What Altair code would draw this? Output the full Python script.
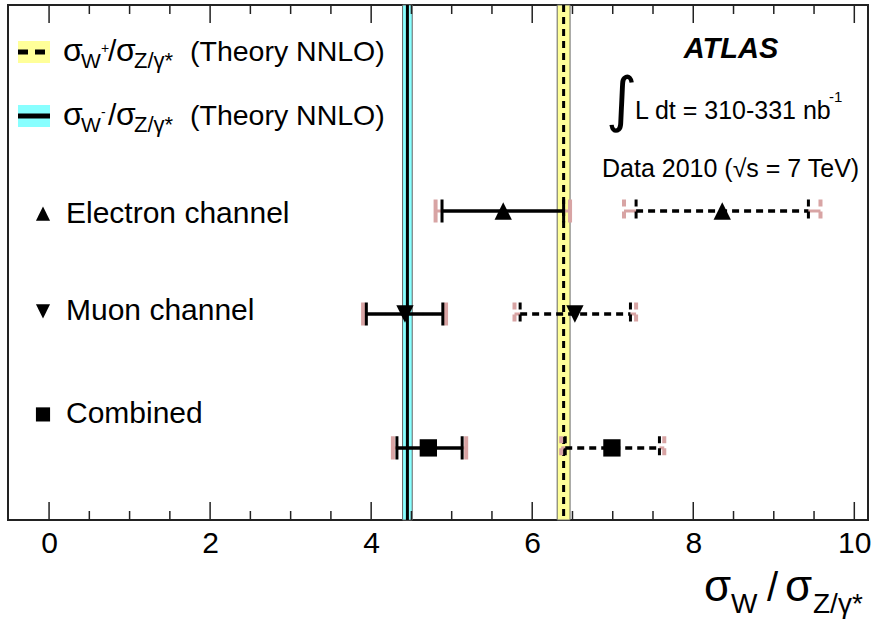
import altair as alt
import pandas as pd

# ---------------- data ----------------
channels = ["Electron channel", "Muon channel", "Combined"]
row_pos = [6.0, 4.0, 1.4]          # vertical slot of each measurement
label_pos = [5.95, 4.05, 2.05]     # vertical slot of each channel label

# sigma_W- / sigma_Z (solid)
wm_val = [5.64, 4.42, 4.71]
wm_stat_lo = [4.88, 3.94, 4.32]
wm_stat_hi = [6.39, 4.89, 5.13]
wm_tot_lo = [4.80, 3.90, 4.27]
wm_tot_hi = [6.47, 4.93, 5.18]

# sigma_W+ / sigma_Z (dashed)
wp_val = [8.36, 6.53, 6.99]
wp_stat_lo = [7.29, 5.85, 6.41]
wp_stat_hi = [9.43, 7.22, 7.58]
wp_tot_lo = [7.14, 5.78, 6.36]
wp_tot_hi = [9.58, 7.29, 7.64]

# theory NNLO predictions
theory = ["W-", "W+"]
theory_val = [4.45, 6.39]
theory_lo = [4.39, 6.31]
theory_hi = [4.51, 6.47]

major_ticks = [0, 2, 4, 6, 8, 10]
minor_ticks = [0.5, 1, 1.5, 2.5, 3, 3.5, 4.5, 5, 5.5, 6.5, 7, 7.5, 8.5, 9, 9.5]

# ---------------- layout ----------------
W, H = 860, 515
PL, PT = 8, 5
FONT = "Liberation Sans"
PINK = "#d8a4a4"
YELLOW = "#ffff99"
CYAN = "#88ffff"


def px(x):
    return x - PL


def py(y):
    return y - PT


marker_paths = {
    "Electron channel": "M-1,1L0,-1L1,1Z",
    "Muon channel": "M-1,-1L0,1L1,-1Z",
    "Combined": "square",
}

rows = []
for i, ch in enumerate(channels):
    rows.append(dict(channel=ch, boson="W-", row=row_pos[i], val=wm_val[i],
                     slo=wm_stat_lo[i], shi=wm_stat_hi[i],
                     tlo=wm_tot_lo[i], thi=wm_tot_hi[i], marker=marker_paths[ch]))
    rows.append(dict(channel=ch, boson="W+", row=row_pos[i], val=wp_val[i],
                     slo=wp_stat_lo[i], shi=wp_stat_hi[i],
                     tlo=wp_tot_lo[i], thi=wp_tot_hi[i], marker=marker_paths[ch]))
meas = pd.DataFrame(rows)

th = pd.DataFrame({"boson": theory, "val": theory_val, "lo": theory_lo, "hi": theory_hi})
labels = pd.DataFrame({"channel": channels, "label": label_pos,
                       "marker": [marker_paths[c] for c in channels]})
ticks = pd.DataFrame({"t": major_ticks + minor_ticks,
                      "kind": ["major"] * len(major_ticks) + ["minor"] * len(minor_ticks)})
one = pd.DataFrame({"a": [0]})

xs = alt.Scale(domain=[-0.51, 10.17], nice=False, zero=False)
ys = alt.Scale(domain=[0, 10], nice=False, zero=False)
xax = alt.Axis(values=major_ticks, ticks=False, domain=False, grid=False, title=None,
               labelFont=FONT, labelFontSize=30, labelColor="black", labelPadding=8,
               labelFlush=False, format="d")

dash_scale = alt.Scale(domain=["W-", "W+"], range=[[1, 0], [8, 6]])

layers = []

# theory bands
layers.append(
    alt.Chart(th).mark_rect(stroke="#666", strokeWidth=1).encode(
        x=alt.X("lo:Q", scale=xs, axis=xax), x2="hi:Q",
        y=alt.value(0), y2=alt.value(H),
        color=alt.Color("boson:N", scale=alt.Scale(domain=["W-", "W+"], range=[CYAN, YELLOW]), legend=None),
    )
)
# theory central values
layers.append(
    alt.Chart(th).mark_rule(color="black", strokeWidth=3).encode(
        x=alt.X("val:Q", scale=xs, axis=xax), y=alt.value(0), y2=alt.value(H),
        strokeDash=alt.StrokeDash("boson:N", scale=alt.Scale(domain=["W-", "W+"], range=[[1, 0], [7, 5]]), legend=None),
    )
)

# pink outer segments of total error
for a, b in (("tlo", "slo"), ("shi", "thi")):
    layers.append(
        alt.Chart(meas).mark_rule(color=PINK, strokeWidth=3).encode(
            x=alt.X(f"{a}:Q", scale=xs, axis=xax), x2=f"{b}:Q",
            y=alt.Y("row:Q", scale=ys, axis=None),
        )
    )
# black statistical line
layers.append(
    alt.Chart(meas).mark_rule(color="black", strokeWidth=3.5).encode(
        x=alt.X("slo:Q", scale=xs, axis=xax), x2="shi:Q",
        y=alt.Y("row:Q", scale=ys, axis=None),
        strokeDash=alt.StrokeDash("boson:N", scale=dash_scale, legend=None),
    )
)
# pink caps (total)
layers.append(
    alt.Chart(meas).transform_fold(["tlo", "thi"], as_=["side", "capx"]).transform_calculate(
        ya="datum.row + 0.225", yb="datum.row - 0.225"
    ).mark_rule(color=PINK, strokeWidth=4).encode(
        x=alt.X("capx:Q", scale=xs, axis=xax),
        y=alt.Y("ya:Q", scale=ys, axis=None), y2="yb:Q",
        strokeDash=alt.StrokeDash("boson:N", scale=dash_scale, legend=None),
    )
)
# black caps (stat)
layers.append(
    alt.Chart(meas).transform_fold(["slo", "shi"], as_=["side", "capx"]).transform_calculate(
        ya="datum.row + 0.225", yb="datum.row - 0.225"
    ).mark_rule(color="black", strokeWidth=3).encode(
        x=alt.X("capx:Q", scale=xs, axis=xax),
        y=alt.Y("ya:Q", scale=ys, axis=None), y2="yb:Q",
        strokeDash=alt.StrokeDash("boson:N", scale=dash_scale, legend=None),
    )
)
# markers
layers.append(
    alt.Chart(meas).mark_point(filled=True, color="black", opacity=1, size=300).encode(
        x=alt.X("val:Q", scale=xs, axis=xax),
        y=alt.Y("row:Q", scale=ys, axis=None),
        shape=alt.Shape("marker:N", scale=None),
    )
)

# axis ticks (inward), bottom and top
for kind, length in (("major", 18), ("minor", 9)):
    sub = alt.Chart(ticks).transform_filter(alt.datum.kind == kind)
    layers.append(sub.mark_rule(color="#222", strokeWidth=1.5).encode(
        x=alt.X("t:Q", scale=xs, axis=xax), y=alt.value(H), y2=alt.value(H - length)))
    layers.append(sub.mark_rule(color="#222", strokeWidth=1.5).encode(
        x=alt.X("t:Q", scale=xs, axis=xax), y=alt.value(0), y2=alt.value(length)))

# channel legend
layers.append(
    alt.Chart(labels).mark_point(filled=True, color="black", opacity=1, size=200).encode(
        x=alt.value(px(43)), y=alt.Y("label:Q", scale=ys, axis=None),
        shape=alt.Shape("marker:N", scale=None),
    )
)
layers.append(
    alt.Chart(labels).mark_text(font=FONT, fontSize=30, align="left", baseline="middle", color="black").encode(
        x=alt.value(px(66)), y=alt.Y("label:Q", scale=ys, axis=None), text="channel:N",
    )
)

# theory legend boxes and lines
layers.append(alt.Chart(one).mark_rect(color=YELLOW).encode(
    x=alt.value(px(18)), x2=alt.value(px(50)), y=alt.value(py(41)), y2=alt.value(py(63))))
layers.append(alt.Chart(one).mark_rect(color=CYAN).encode(
    x=alt.value(px(18)), x2=alt.value(px(50)), y=alt.value(py(105)), y2=alt.value(py(127))))
layers.append(alt.Chart(one).mark_rule(color="black", strokeWidth=5, strokeDash=[10, 7]).encode(
    x=alt.value(px(18)), x2=alt.value(px(50)), y=alt.value(py(52))))
layers.append(alt.Chart(one).mark_rule(color="black", strokeWidth=5).encode(
    x=alt.value(px(18)), x2=alt.value(px(50)), y=alt.value(py(116))))


def txt(s, x, y, size, **kw):
    opts = dict(font=FONT, fontSize=size, align="left", baseline="alphabetic", color="black")
    opts.update(kw)
    return alt.Chart(one).mark_text(**opts).encode(
        x=alt.value(px(x)), y=alt.value(py(y)), text=alt.value(s))


for base, sup in ((61, "+"), (125, "-")):
    layers += [
        txt("σ", 63, base, 32),
        txt("W", 81, base + 7, 21),
        txt(sup, 101, base - 8, 14),
        txt("/", 108, base, 30),
        txt("σ", 116, base, 32),
        txt("Z/γ*", 134, base + 7, 22),
        txt("(Theory NNLO)", 190, base, 28.5),
    ]

# ATLAS block
layers += [
    txt("ATLAS", 731, 58, 29, align="center", fontWeight="bold", fontStyle="italic"),
    txt("∫", 606, 120, 60, font="DejaVu Sans"),
    txt("L dt = 310-331 nb", 635, 119, 25),
    txt("-1", 829, 102, 15),
    txt("Data 2010 (√s = 7 TeV)", 602, 177, 25),
]

# x-axis title
layers += [
    txt("σ", 704, 601, 44),
    txt("W", 731, 613, 28),
    txt("/", 767, 601, 40),
    txt("σ", 785, 601, 44),
    txt("Z/γ*", 813, 613, 28),
]

chart = alt.layer(*layers).properties(
    width=W, height=H,
    padding={"left": PL, "top": PT, "right": 873 - PL - W, "bottom": 620 - PT - H},
    autosize=alt.AutoSizeParams(type="none"),
    background="white",
).configure_view(stroke="#222", strokeWidth=2)

chart.save("out.html", embed_options={"renderer": "svg", "actions": False})
